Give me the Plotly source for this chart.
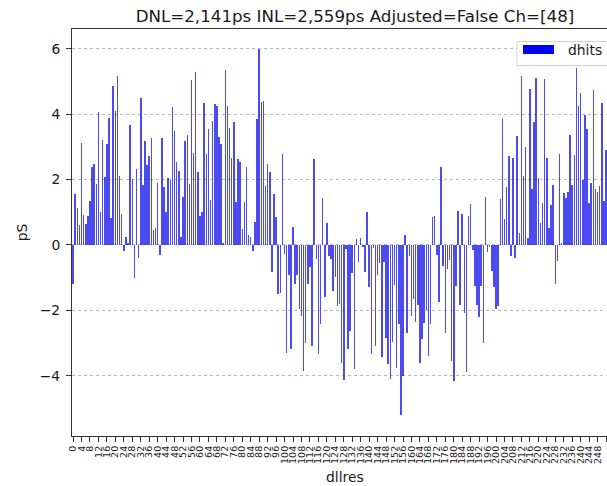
import plotly.graph_objects as go

# Per-bin deviation (pS) for dllres bins 0..252
dllres = list(range(0, 253))
dhits = [
    -1.2, 1.57, 1.14, 0.61, 3.13, 0.93, 0.65, 0.88, 1.33, 2.39,
    2.48, 1.85, 4.07, 1.0, 3.22, 2.07, 3.07, 3.88, 0.82, 4.87,
    4.1, 5.16, 2.1, 0.96, -0.2, 0.25, 0.05, 3.66, 2.03, -1.02,
    2.31, -0.39, 4.5, 1.82, 3.19, 2.45, 2.72, 3.28, 0.45, 0.53,
    1.9, -0.3, 3.28, 1.76, 1.0, 2.06, 1.98, 4.23, 3.48, 2.55,
    2.26, 0.25, 1.45, 3.18, 3.35, 1.87, 5.04, 2.82, 5.28, 2.23,
    0.87, 1.0, 4.35, 2.79, 3.53, 1.36, 3.78, 4.3, 4.24, 3.31,
    3.09, 0.05, 5.35, 4.26, 3.56, 2.67, 3.75, 1.31, 2.63, 2.54,
    0.48, 1.31, 2.39, 0.3, 0.24, -0.18, 0.71, 3.86, 6.0, 4.36,
    4.4, 1.8, 2.48, 2.23, -0.83, 1.55, 0.86, -1.51, -1.46, 2.77,
    -0.29, -3.31, -0.93, -3.19, 0.56, -1.18, -0.93, -1.95, -2.17, -3.85,
    -3.0, -1.2, -0.66, -3.09, 2.62, -0.44, -3.34, -2.42, 1.42, -1.6,
    0.68, -0.34, -0.42, -1.4, -0.97, -1.86, -1.81, -3.6, -4.12, -0.13,
    -3.19, -2.63, -0.85, -3.78, 0.17, -0.51, 0.22, -0.05, -0.83, 1.0,
    -1.3, -3.34, -0.08, -3.08, -0.93, -0.54, -3.44, -0.52, -2.83, -3.65,
    -4.1, -2.98, -1.23, -3.75, -2.42, -5.2, -4.0, 0.3, -2.68, -0.34,
    -2.17, -1.66, -2.37, -1.84, -3.62, -2.86, -2.39, -2.0, -3.39, -2.42,
    0.84, 0.89, -0.32, -1.74, 2.39, -0.64, -2.68, -0.74, -0.47, -3.54,
    -4.15, -1.25, 1.04, -1.84, 0.96, -2.07, -3.88, 0.89, 1.24, -0.15,
    -1.25, -1.84, -2.19, -1.25, -3.0, 1.45, -0.23, -0.05, -0.8, -1.3,
    -1.97, -1.86, 1.4, 3.86, 0.8, 1.78, 2.72, -0.34, 2.67, -0.39,
    3.33, 0.36, 5.16, 2.11, 3.0, 0.2, 4.76, 1.72, 3.76, 5.11,
    2.06, 0.68, 1.29, 5.06, 2.67, 0.53, 1.22, 1.82, -1.2, -0.49,
    2.77, 0.07, 1.6, 1.43, 1.62, 3.36, 1.84, 2.76, 5.4, 4.25,
    4.65, 2.0, 3.96, 3.55, 1.29, 1.88, 4.73, 1.7, 1.62, 1.8,
    4.35, 1.34, 2.9,
]

x_tickvals = list(range(0, 256, 4))
x_ticktext = [str(v) for v in x_tickvals]
y_tickvals = [-4, -2, 0, 2, 4, 6]
y_ticktext = ["\u22124", "\u22122", "0", "2", "4", "6"]

title_text = "DNL=2,141ps INL=2,559ps Adjusted=False Ch=[48]"
series_name = "dhits"

FONT = "DejaVu Sans"
TEXT = "#1a1a1a"
W, H = 607, 486
L, R, T, B = 72, 0, 29, 50
PW, PH = W - L - R, H - T - B


def px(x):
    return (x - L) / PW


def py(y):
    return (H - B - y) / PH


fig = go.Figure()
# a translucent fill keeps the thin bars on whole pixels instead of widening them
fig.add_trace(go.Bar(
    x=dllres, y=dhits, name=series_name, width=0.72,
    marker=dict(color="rgba(30,30,235,0.8)", line=dict(width=0)),
    showlegend=False,
))

fig.update_layout(
    width=W, height=H,
    margin=dict(l=L, r=R, t=T, b=B, pad=0),
    paper_bgcolor="white", plot_bgcolor="white",
    font=dict(family=FONT, color=TEXT, size=14),
    bargap=0,
    title=dict(
        text=title_text, xref="container", yref="container",
        x=355 / W, y=1 - 16 / H, xanchor="center", yanchor="middle",
        font=dict(family=FONT, size=16.7, color=TEXT),
    ),
)

fig.update_xaxes(
    range=[-0.5, -0.5 + PW / 2.115],
    tickmode="array", tickvals=x_tickvals, ticktext=x_ticktext,
    tickangle=-90, tickfont=dict(family=FONT, size=9.5, color=TEXT),
    ticks="outside", ticklen=5, tickwidth=1, tickcolor="#333",
    showline=True, linecolor="#333", linewidth=1, mirror=True,
    showgrid=False, zeroline=False,
)
fig.update_yaxes(
    range=[-5.84, 6.6],
    tickmode="array", tickvals=y_tickvals, ticktext=y_ticktext,
    tickfont=dict(family=FONT, size=13.9, color=TEXT),
    ticks="outside", ticklen=5, tickwidth=1, tickcolor="#333",
    ticklabelstandoff=3,
    showline=True, linecolor="#333", linewidth=1, mirror=False,
    showgrid=True, gridcolor="#b8b8b8", gridwidth=0.8, griddash="dot",
    zeroline=False,
    title=dict(text="pS", standoff=8, font=dict(family=FONT, size=13.9, color=TEXT)),
)

# x-axis label
fig.add_annotation(
    text="dllres", xref="paper", yref="paper",
    x=px(345), y=py(477), xanchor="center", yanchor="middle",
    showarrow=False, font=dict(family=FONT, size=13.9, color=TEXT),
)

# legend box (upper right)
fig.add_shape(
    type="rect", xref="paper", yref="paper",
    x0=px(517), x1=px(625), y0=py(65.5), y1=py(41.5),
    line=dict(color="#d4d4d4", width=1), fillcolor="rgba(255,255,255,0.85)",
    layer="above",
)
fig.add_shape(
    type="rect", xref="paper", yref="paper",
    x0=px(523), x1=px(554), y0=py(54), y1=py(45),
    line=dict(width=0), fillcolor="#0000ff", layer="above",
)
fig.add_annotation(
    text=series_name, xref="paper", yref="paper",
    x=px(566), y=py(50), xanchor="left", yanchor="middle",
    showarrow=False, font=dict(family=FONT, size=13.9, color=TEXT),
)

fig.write_html("out.html")
